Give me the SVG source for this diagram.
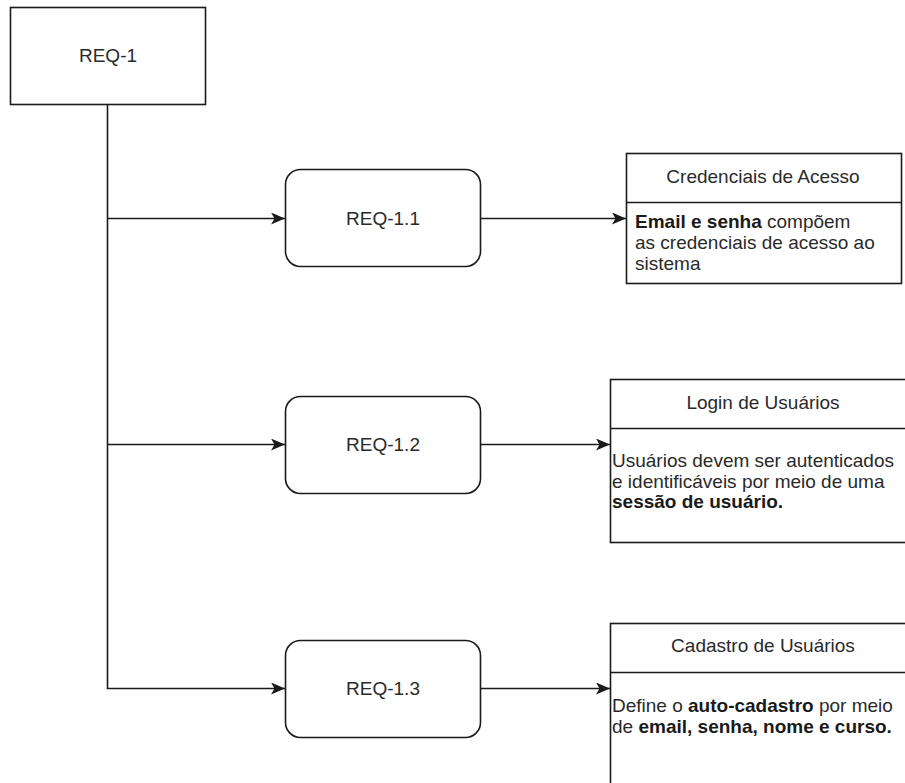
<svg xmlns="http://www.w3.org/2000/svg" width="905" height="783" viewBox="0 0 905 783">
<style>
.box{fill:#fff;stroke:#1a1a1a;stroke-width:1.6}
.ln{fill:none;stroke:#1a1a1a;stroke-width:1.6}
text{font-family:"Liberation Sans",Arial,Helvetica,sans-serif;font-size:19px;fill:#2a2a2a}
.c{text-anchor:middle}
.b{font-weight:bold;fill:#1a1a1a}
</style>
<defs>
<marker id="ah" viewBox="0 0 14 12" refX="14" refY="6" markerWidth="14" markerHeight="12" markerUnits="userSpaceOnUse" orient="auto">
<path d="M0,0 L14,6 L0,12 L3.5,6 Z" fill="#1a1a1a"/>
</marker>
</defs>
<rect width="905" height="783" fill="#fff"/>
<g id="connectors">
<path class="ln" d="M107.5,104.5 V688.5 H285" marker-end="url(#ah)"/>
<path class="ln" d="M107.5,218.5 H285" marker-end="url(#ah)"/>
<path class="ln" d="M107.5,444.5 H285" marker-end="url(#ah)"/>
<path class="ln" d="M481,218.5 H626" marker-end="url(#ah)"/>
<path class="ln" d="M481,444.5 H610" marker-end="url(#ah)"/>
<path class="ln" d="M481,688.5 H610" marker-end="url(#ah)"/>
</g>
<g id="req1">
<rect class="box" x="10.5" y="7.5" width="195" height="97"/>
<text class="c" x="108" y="62">REQ-1</text>
</g>
<g id="req11">
<rect class="box" x="285.5" y="169.5" width="195" height="97" rx="15"/>
<text class="c" x="383" y="225">REQ-1.1</text>
</g>
<g id="req12">
<rect class="box" x="285.5" y="396.5" width="195" height="97" rx="15"/>
<text class="c" x="383" y="451">REQ-1.2</text>
</g>
<g id="req13">
<rect class="box" x="285.5" y="640.5" width="195" height="97" rx="15"/>
<text class="c" x="383" y="695">REQ-1.3</text>
</g>
<g id="credenciais">
<rect class="box" x="626.5" y="153.5" width="275" height="130"/>
<line class="ln" x1="626.5" y1="202.5" x2="901.5" y2="202.5"/>
<text class="c" x="763" y="183">Credenciais de Acesso</text>
<text x="635" y="228"><tspan class="b">Email e senha</tspan> compõem</text>
<text x="635" y="249">as credenciais de acesso ao</text>
<text x="635" y="270">sistema</text>
</g>
<g id="login">
<rect class="box" x="610.5" y="379.5" width="306" height="163"/>
<line class="ln" x1="610.5" y1="428.5" x2="916.5" y2="428.5"/>
<text class="c" x="763" y="409">Login de Usuários</text>
<text x="612" y="467">Usuários devem ser autenticados</text>
<text x="612" y="487.5">e identificáveis por meio de uma</text>
<text x="612" y="508" class="b">sessão de usuário.</text>
</g>
<g id="cadastro">
<rect class="box" x="610.5" y="623.5" width="306" height="180"/>
<line class="ln" x1="610.5" y1="672.5" x2="916.5" y2="672.5"/>
<text class="c" x="763" y="652">Cadastro de Usuários</text>
<text x="612" y="712">Define o <tspan class="b">auto-cadastro</tspan> por meio</text>
<text x="612" y="732.5">de <tspan class="b">email, senha, nome e curso.</tspan></text>
</g>
</svg>
